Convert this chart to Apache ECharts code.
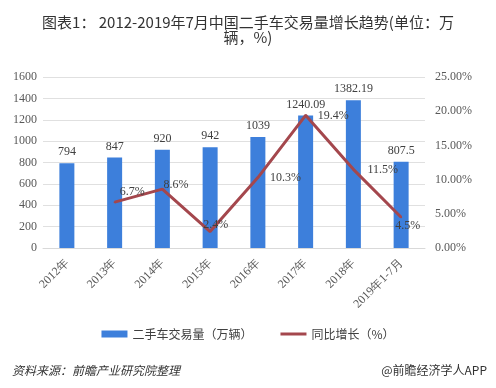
<!DOCTYPE html>
<html><head><meta charset="utf-8">
<script src="https://cdn.jsdelivr.net/npm/echarts@6/dist/echarts.min.js"></script>
<style>html,body{margin:0;padding:0;background:#fff}#c{width:496px;height:388px}</style>
</head><body><div id="c"></div>
<script>
const categories = ['2012年','2013年','2014年','2015年','2016年','2017年','2018年','2019年1-7月'];
const volume = [794, 847, 920, 942, 1039, 1240.09, 1382.19, 807.5];
const growth = [null, 6.7, 8.6, 2.4, 10.3, 19.4, 11.5, 4.5];
const leftTicks = [0, 1600, 200];
const rightTicks = [0, 25, 5];
// label placement tweaks (style only)
const growthLabelOffsets = [[0,0],[4,-10],[0,-4],[-8,-7],[11,0],[11,1],[13,1],[-7,9]];

const serif = '"Liberation Serif", "Times New Roman", serif';
const cjk = '"Noto Sans CJK SC", sans-serif';
const chart = echarts.init(document.getElementById('c'));
chart.setOption({
  animation: false,
  backgroundColor: '#fff',
  title: [{
    text: '图表1： 2012-2019年7月中国二手车交易量增长趋势(单位：万\n辆，%)',
    left: 'center', top: 10,
    textStyle: {fontSize: 15, fontWeight: 'normal', color: '#333', lineHeight: 15, fontFamily: cjk}
  }, {
    text: '资料来源：前瞻产业研究院整理', left: 7, top: 359,
    textStyle: {fontSize: 12, fontWeight: 'normal', fontStyle: 'italic', color: '#333', fontFamily: cjk}
  }, {
    text: '@前瞻经济学人APP', right: 4, top: 359,
    textStyle: {fontSize: 12, fontWeight: 'normal', color: '#333', fontFamily: cjk}
  }],
  legend: {
    top: 323, left: 'center', itemGap: 28, itemWidth: 26, itemHeight: 7,
    textStyle: {fontSize: 12, color: '#404040', fontFamily: cjk},
    data: [{name: '二手车交易量（万辆）', icon: 'rect'},
           {name: '同比增长（%）', icon: 'path://M0,0h26v3h-26z', itemStyle: {color: '#a4474d', opacity: 1}}]
  },
  grid: {left: 43, right: 71, top: 77, bottom: 140},
  xAxis: {
    type: 'category', data: categories,
    axisLine: {lineStyle: {color: '#d9d9d9'}},
    axisTick: {show: false},
    axisLabel: {rotate: 45, color: '#595959', fontSize: 12, fontFamily: serif, interval: 0, margin: 13}
  },
  yAxis: [{
    type: 'value', min: leftTicks[0], max: leftTicks[1], interval: leftTicks[2],
    axisLine: {show: false}, axisTick: {show: false},
    splitLine: {lineStyle: {color: '#e0e0e0'}},
    axisLabel: {color: '#595959', fontSize: 12, fontFamily: serif, margin: 6, formatter: v => String(v)}
  }, {
    type: 'value', min: rightTicks[0], max: rightTicks[1], interval: rightTicks[2],
    axisLine: {show: false}, axisTick: {show: false}, splitLine: {show: false},
    axisLabel: {color: '#595959', fontSize: 12, fontFamily: serif, margin: 10,
      formatter: v => v.toFixed(2) + '%'}
  }],
  series: [{
    name: '二手车交易量（万辆）', type: 'bar', data: volume, barWidth: 15,
    itemStyle: {color: '#3d7fdb'},
    label: {show: true, position: 'top', color: '#404040', fontSize: 12, fontFamily: serif, distance: 5}
  }, {
    name: '同比增长（%）', type: 'line', yAxisIndex: 1,
    data: growth.map((v, i) => ({value: v, label: {offset: growthLabelOffsets[i]}})),
    symbol: 'circle', symbolSize: 2, showSymbol: true, connectNulls: false,
    lineStyle: {color: '#a4474d', width: 3},
    itemStyle: {color: '#a4474d'},
    label: {show: true, position: 'right', color: '#404040', fontSize: 12, fontFamily: serif, distance: 0,
      formatter: p => p.value + '%'}
  }]
});
</script></body></html>
